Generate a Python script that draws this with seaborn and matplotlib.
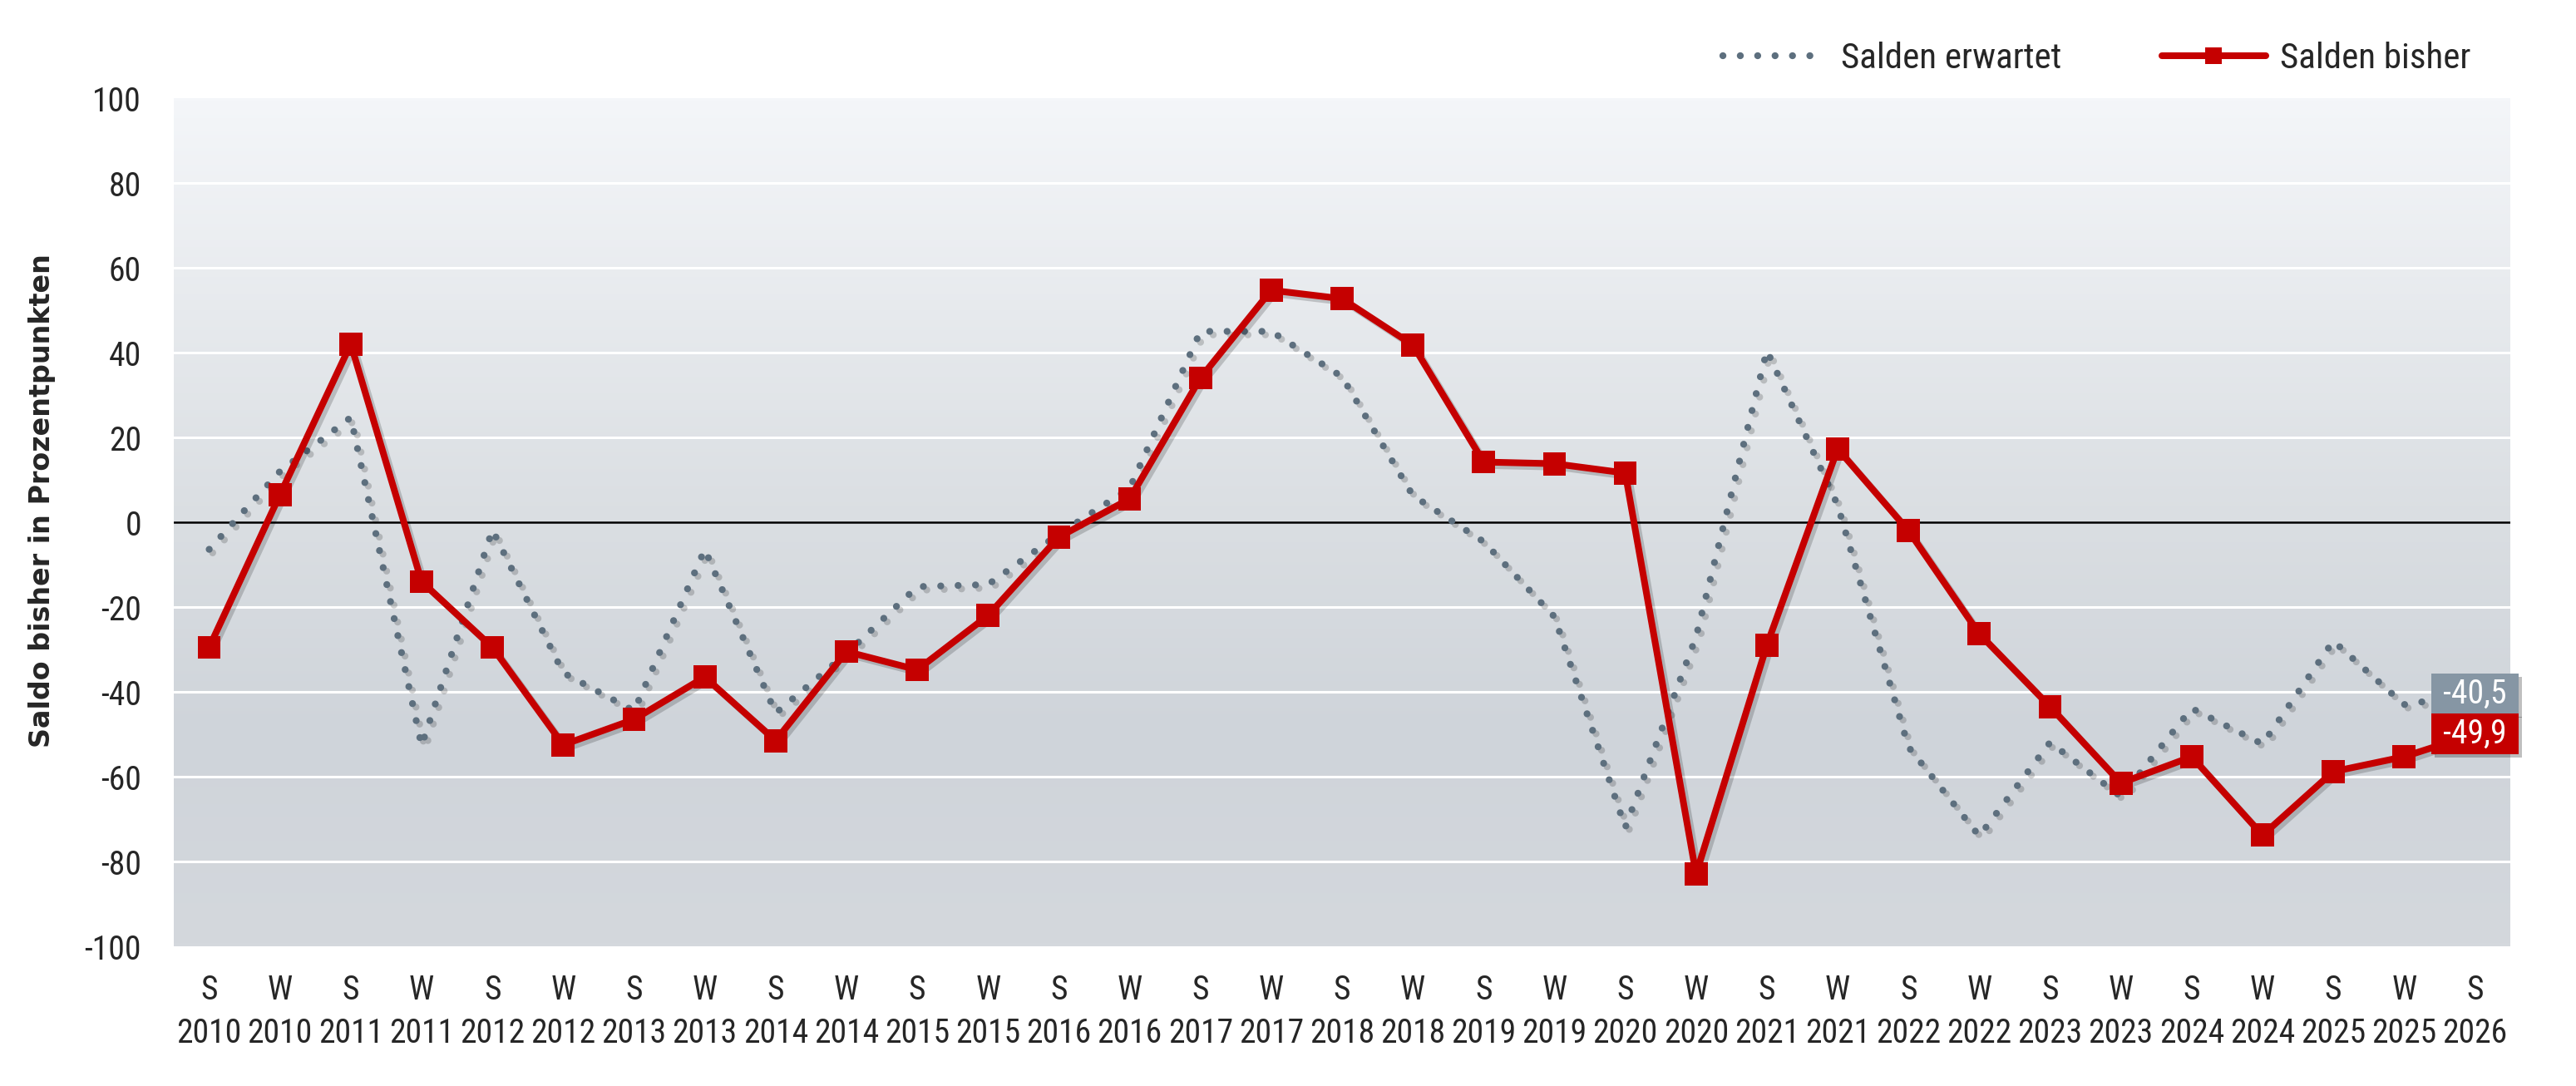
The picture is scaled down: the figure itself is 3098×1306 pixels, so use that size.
import numpy as np
import pandas as pd
import matplotlib
matplotlib.use("Agg")
import matplotlib.pyplot as plt
import matplotlib.patheffects as pe
from matplotlib import font_manager as fm
from matplotlib.colors import LinearSegmentedColormap
import seaborn as sns

# ---------------- data ----------------
seasons = ["S", "W"] * 16 + ["S"]
years = ["2010", "2010", "2011", "2011", "2012", "2012", "2013", "2013", "2014", "2014",
         "2015", "2015", "2016", "2016", "2017", "2017", "2018", "2018", "2019", "2019",
         "2020", "2020", "2021", "2021", "2022", "2022", "2023", "2023", "2024", "2024",
         "2025", "2025", "2026"]
salden_bisher = [-29.5, 6.5, 42, -14, -29.5, -52.5, -46.5, -36.5, -51.5, -30.5,
                 -34.8, -22, -3.5, 5.5, 34, 54.7, 52.7, 41.8, 14.2, 13.8,
                 11.6, -83, -29, 17.3, -2, -26.3, -43.5, -61.5, -55.3, -73.8,
                 -58.8, -55.3, -49.9]
salden_erwartet = [-6.4, 12, 24.7, -52.7, -1.8, -35.5, -44.5, -6.4, -45, -31,
                   -15.2, -14.7, -2.8, 8, 45, 45, 34.3, 6.3, -4.6, -22.3,
                   -72, -27, 40.5, 4, -53, -74, -51.9, -64.7, -43.9, -52.3,
                   -28, -43, -40.5]
label_bisher = "Salden bisher"
label_erwartet = "Salden erwartet"
y_label = "Saldo bisher in Prozentpunkten"
y_ticks = [-100, -80, -60, -40, -20, 0, 20, 40, 60, 80, 100]

# ---------------- fonts ----------------
names = {f.name for f in fm.fontManager.ttflist}
cond = None
stretch = "normal"
for cand in ["Liberation Sans Narrow", "Roboto Condensed", "Open Sans Condensed",
             "Arial Narrow", "Noto Sans Condensed"]:
    if cand in names:
        cond = cand
        break
if cond is None:
    has_dv_cond = any(f.name == "DejaVu Sans" and f.stretch in ("condensed", 375)
                      for f in fm.fontManager.ttflist) or \
        any(f.name == "DejaVu Sans" and "Condensed" in f.fname for f in fm.fontManager.ttflist)
    if has_dv_cond:
        cond = "DejaVu Sans"
        stretch = "condensed"
    else:
        cond = "Roboto"
FS = 28.5 if cond != "Roboto" else 24
LFS = 31 if cond != "Roboto" else 26

# ---------------- style ----------------
RED = "#c50000"
GRAY = "#5d6f7e"
GRAY_BOX = "#8696a4"

sns.set_theme(style="white")
plt.rcParams["font.family"] = [cond, "DejaVu Sans"]
plt.rcParams["font.stretch"] = stretch

df = pd.DataFrame({
    "idx": np.arange(len(seasons)),
    "bisher": salden_bisher,
    "erwartet": salden_erwartet,
})

fig = plt.figure(figsize=(30.98, 13.06), dpi=100)
ax = fig.add_axes([209 / 3098, 1 - 1138 / 1306, (3019 - 209) / 3098, (1138 - 118) / 1306])

xmin, xmax = -0.5, len(seasons) - 0.5

# gradient background
cmap = LinearSegmentedColormap.from_list(
    "bg", [(0.0, "#d4d8dd"), (0.25, "#cfd4da"), (0.5, "#dadee2"), (1.0, "#f4f6f9")])
grad = np.linspace(0, 1, 256).reshape(-1, 1)
ax.imshow(grad, extent=[xmin, xmax, -100, 100], origin="lower", aspect="auto",
          cmap=cmap, zorder=0)

# gridlines
for t in y_ticks[1:-1]:
    if t == 0:
        ax.axhline(0, color="black", lw=1.8, zorder=1)
    else:
        ax.axhline(t, color="white", lw=2.2, zorder=1)

shadow = [pe.SimpleLineShadow(offset=(3, -3), shadow_color="black", alpha=0.18), pe.Normal()]

sns.lineplot(data=df, x="idx", y="erwartet", ax=ax, color=GRAY, linewidth=6,
             linestyle=(0, (0.01, 2.5)), dash_capstyle="round",
             label=label_erwartet, zorder=3, path_effects=shadow)
sns.lineplot(data=df, x="idx", y="bisher", ax=ax, color=RED, linewidth=5.8,
             marker="s", markersize=20, markeredgewidth=0,
             label=label_bisher, zorder=4, path_effects=shadow)

# end labels
box_shadow = [pe.withSimplePatchShadow(offset=(3, -3), shadow_rgbFace="black", alpha=0.25)]
last = len(seasons) - 1
for val, col in [(salden_erwartet[-1], GRAY_BOX), (salden_bisher[-1], RED)]:
    t = ax.text(last, val, " " + f"{val:.1f}".replace(".", ",") + " ",
                ha="center", va="center", color="white", fontsize=FS, zorder=6,
                bbox=dict(boxstyle="square,pad=0.12", fc=col, ec="none"))
    t.get_bbox_patch().set_path_effects(box_shadow)

ax.set_xlim(xmin, xmax)
ax.set_ylim(-100, 100)
ax.set_yticks(y_ticks)
ax.set_yticklabels([str(t) for t in y_ticks], fontsize=FS)
ax.set_xticks(df["idx"])
ax.set_xticklabels([f"{s}\n{y}" for s, y in zip(seasons, years)], fontsize=FS,
                   linespacing=1.4)
ax.tick_params(axis="y", length=0, pad=28)
ax.tick_params(axis="x", length=0, pad=24)
ax.set_xlabel("")
ax.set_ylabel(y_label, fontsize=24, fontweight="bold", family=["DejaVu Sans"],
              fontstretch="normal")
ax.yaxis.set_label_coords(-0.0505, 0.525)
for s in ax.spines.values():
    s.set_visible(False)

leg = ax.legend(loc="center right", bbox_to_anchor=(3010 / 3098, 1 - 71 / 1306),
                bbox_transform=fig.transFigure, ncol=2, frameon=False, fontsize=LFS,
                handlelength=2.9, handletextpad=0.4, columnspacing=2.8)
for h in leg.legend_handles:
    h.set_path_effects([])
    if h.get_marker() == "s":
        h.set_markersize(14)

fig.savefig("out.png", dpi=100)
